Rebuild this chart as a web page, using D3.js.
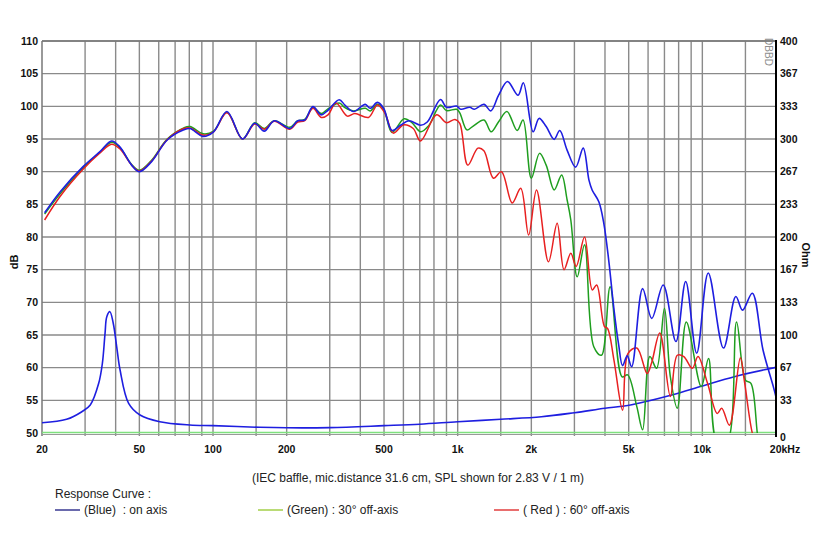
<!DOCTYPE html>
<html><head><meta charset="utf-8">
<script src="https://cdn.jsdelivr.net/npm/d3@7"></script>
<style>
html,body{margin:0;padding:0;background:#fff;}
svg text{font-family:"Liberation Sans Narrow","Liberation Sans",Arial,sans-serif;}
</style></head>
<body><svg id="c" width="825" height="550"></svg>
<script>
// ---------- DATA ----------
const dbTicks = [50,55,60,65,70,75,80,85,90,95,100,105,110];
const ohmTicks = ["0","33","67","100","133","167","200","233","267","300","333","367","400"];
const freqTickValues = [20,50,100,200,500,1000,2000,5000,10000,20000];
const freqTickLabels = ["20","50","100","200","500","1k","2k","5k","10k","20kHz"];
const gridFreqs = [30,40,50,60,70,80,90,100,150,200,300,400,500,600,700,800,900,1000,1500,2000,3000,4000,5000,6000,7000,8000,9000,10000,15000];

const blueFreq = [20.5,23.7,29.5,34.6,38.5,41.6,46.5,50,56,65,76,80.5,91,100.5,114,132,148,162,178,206,222,237,256,277,295,328,346,375,419,439,470,498,539,584,632,706,751,851,900,990,1030,1120,1170,1280,1366,1470,1598,1765,1855,2034,2151,2300,2478,2613,2800,3035,3259,3440,3544,3775,3956,4150,4350,4550,4720,4930,5140,5700,6210,6920,7800,8550,9480,10570,12200,13700,14600,16000,17700,19500,20000];
const blueSpl = [83.7,86.9,90.8,93.1,94.7,93.8,91.0,90.0,91.5,94.85,96.4,96.6,95.4,96.1,99.2,95.0,97.4,96.2,97.8,96.6,97.8,97.9,99.95,98.7,99.4,101.0,100.2,99.2,100.3,99.7,100.6,99.7,96.3,97.1,97.8,97.1,97.6,101.05,99.85,100.05,99.55,99.85,99.55,100.3,99.3,101.7,103.8,101.7,103.6,96.1,98.15,96.9,94.95,96.3,93.3,90.7,93.6,88.7,87.2,85.4,82.1,76.2,69.0,63.5,60.3,61.8,60.15,72.1,67.55,72.65,64.0,73.2,62.2,74.5,63.0,70.9,68.8,71.4,62.7,57.1,55.5];

const greenFreq = [20.5,23.7,29.5,34.6,38.5,41.6,46.5,50,56,65,76,80.5,91,100.5,114,132,148,162,178,206,222,237,256,277,295,328,346,375,419,439,470,498,539,604,650,706,760,851,900,990,1020,1090,1150,1280,1370,1470,1590,1750,1850,2000,2160,2300,2480,2660,2800,2900,3080,3300,3600,3870,4200,4700,4950,5400,5700,6100,6500,7000,7400,7900,8600,9900,10600,11500,12600,13800,15000,15800,17000,18000];
const greenSpl = [83.5,86.6,90.6,93.0,94.5,93.7,91.1,90.2,91.7,95.0,96.7,96.9,95.8,96.2,99.1,95.0,97.5,96.6,97.8,96.8,97.8,98.0,99.8,98.9,99.6,100.5,99.8,99.3,99.7,99.3,100.3,99.6,96.0,98.1,97.5,96.1,97.0,100.2,99.35,99.55,99.0,96.4,96.9,97.9,96.1,97.65,99.2,96.3,97.9,89.0,92.8,91.0,87.2,89.5,85.7,82.6,73.9,78.8,63.2,61.9,72.4,58.6,58.9,54.0,50.5,61.7,59.9,69.1,58.6,53.8,67.0,57.1,61.4,48.5,48.5,67.0,58.1,57.6,48.5,46];

const redFreq = [20.5,23.7,29.5,34.6,38.5,41.6,46.5,50,56,65,76,80.5,91,100.5,114,132,148,162,178,206,222,237,256,277,295,318,354,380,432,470,505,546,600,658,705,820,900,975,1020,1100,1210,1280,1400,1510,1670,1810,1950,2100,2350,2550,2720,2900,3050,3300,3550,3700,3980,4100,4350,4720,4970,5400,5950,6200,6700,7400,7900,8400,9100,9600,10500,11500,12000,12900,14300,14900,16000,17000];
const redSpl = [82.6,86.2,90.4,92.9,94.2,93.5,91.0,90.1,91.6,94.9,96.6,96.7,95.6,96.1,99.0,95.0,97.3,96.5,97.7,96.5,97.6,97.8,99.7,98.3,98.7,100.5,98.5,98.9,98.3,100.2,98.9,95.9,97.15,96.6,94.7,98.7,97.5,98.0,97.4,91.0,93.6,93.2,89.0,90.0,85.2,87.45,80.3,87.2,76.2,82.1,75.0,77.5,75.5,80.0,71.9,72.65,66.3,66.0,61.2,53.5,62.2,63.0,59.1,60.7,65.3,55.6,61.9,61.7,59.9,61.7,57.6,53.0,53.8,51.2,61.5,57.6,50,47];

const impFreq = [20,25.2,29.1,31.5,34.1,35.3,36.2,36.8,37.9,39.1,40.4,41.7,45.2,50.3,60.6,80.4,100,155,200,300,500,700,1000,1500,2200,3000,4000,4800,5600,7500,10000,13500,20000];
const impOhm = [10.5,14,21.7,28.6,50.7,71,101.7,118.7,123.8,112,88,64.3,30.3,18.4,11.5,8.2,7.5,5.8,5.3,5.5,7.5,9,11.5,14,16.6,20.7,25.2,27.6,30.9,38.8,48,57.5,67];

const legendItems = ["(Blue)  : on axis","(Green) : 30° off-axis","( Red ) : 60° off-axis"];

// ---------- DRAW ----------
const svg = d3.select("#c");
const L=42, R=776, T=41, B=433;
const x = d3.scaleLog().domain([20,20000]).range([L,R]);
const y = d3.scaleLinear().domain([50,110]).range([B,T]);
const yR = d3.scaleLinear().domain([0,400]).range([B,T]);

svg.append("defs").append("clipPath").attr("id","clip")
  .append("rect").attr("x",L).attr("y",T).attr("width",R-L).attr("height",B-T);

const gridC = "#8a8a8a";
svg.append("g").selectAll("line").data(dbTicks.slice(1)).join("line")
  .attr("x1",L).attr("x2",R).attr("y1",d=>y(d)).attr("y2",d=>y(d))
  .attr("stroke",gridC).attr("stroke-width",1.4);
svg.append("g").selectAll("line").data(gridFreqs).join("line")
  .attr("x1",d=>x(d)).attr("x2",d=>x(d)).attr("y1",T).attr("y2",B+3)
  .attr("stroke",gridC).attr("stroke-width",1.4);
svg.append("line").attr("x1",L).attr("x2",L).attr("y1",T).attr("y2",B+3).attr("stroke","#777").attr("stroke-width",1.5);
svg.append("line").attr("x1",L).attr("x2",R).attr("y1",B+1.5).attr("y2",B+1.5).attr("stroke","#999").attr("stroke-width",1.2);
svg.append("line").attr("x1",L).attr("x2",R).attr("y1",B-0.5).attr("y2",B-0.5).attr("stroke","#7ee07e").attr("stroke-width",1.6);

svg.append("g").selectAll("text").data(dbTicks).join("text")
  .attr("x",38).attr("y",d=>y(d)+3.5).attr("text-anchor","end")
  .attr("font-size",10.5).attr("font-weight","bold").attr("fill","#111").text(d=>d);
svg.append("g").selectAll("text").data(ohmTicks).join("text")
  .attr("x",780).attr("y",(d,i)=>yR(i*400/12)+(i===0?8:3.5)).attr("text-anchor","start")
  .attr("font-size",10.5).attr("font-weight","bold").attr("fill","#111").text(d=>d);
svg.append("g").selectAll("text").data(freqTickValues).join("text")
  .attr("x",(d,i)=>x(d)+(i===freqTickLabels.length-1?9:0)).attr("y",453).attr("text-anchor","middle")
  .attr("font-size",10.5).attr("font-weight","bold").attr("fill","#111").text((d,i)=>freqTickLabels[i]);

svg.append("text").attr("transform","translate(18,262) rotate(-90)").attr("text-anchor","middle")
  .attr("font-size",11).attr("font-weight","bold").attr("fill","#111").text("dB");
svg.append("text").attr("transform","translate(802,255) rotate(90)").attr("text-anchor","middle")
  .attr("font-size",11).attr("font-weight","bold").attr("fill","#111").text("Ohm");
svg.append("text").attr("transform","translate(765,52) rotate(90)").attr("text-anchor","middle")
  .attr("font-size",10).attr("fill","#8f8f8f").text("DBBD");

const lineG = d3.line().x(d=>x(d[0])).y(d=>y(d[1])).curve(d3.curveCatmullRom.alpha(0.5));
const lineZ = d3.line().x(d=>x(d[0])).y(d=>yR(d[1])).curve(d3.curveCatmullRom.alpha(0.5));
const plot = svg.append("g").attr("clip-path","url(#clip)");
plot.append("path").datum(d3.zip(impFreq,impOhm)).attr("d",lineZ).attr("fill","none").attr("stroke","#1e1ee0").attr("stroke-width",1.6);
plot.append("path").datum(d3.zip(greenFreq,greenSpl)).attr("d",lineG).attr("fill","none").attr("stroke","#1f9e1f").attr("stroke-width",1.5);
plot.append("path").datum(d3.zip(redFreq,redSpl)).attr("d",lineG).attr("fill","none").attr("stroke","#e82020").attr("stroke-width",1.5);
plot.append("path").datum(d3.zip(blueFreq,blueSpl)).attr("d",lineG).attr("fill","none").attr("stroke","#1e1ee0").attr("stroke-width",1.6);

svg.append("line").attr("x1",L).attr("x2",R).attr("y1",T).attr("y2",T).attr("stroke","#777").attr("stroke-width",1.4);
svg.append("line").attr("x1",R).attr("x2",R).attr("y1",T-1).attr("y2",B+4).attr("stroke","#000").attr("stroke-width",2);

svg.append("text").attr("x",418).attr("y",482).attr("text-anchor","middle").attr("font-size",12).attr("fill","#222")
  .text("(IEC baffle, mic.distance 31.6 cm, SPL shown for 2.83 V / 1 m)");
svg.append("text").attr("x",55).attr("y",498).attr("font-size",12).attr("fill","#222").text("Response Curve :");
const legX = [55,258,494];
const legC = ["#2a2a8a","#9ccc3c","#e03030"];
legendItems.forEach((t,i)=>{
  svg.append("line").attr("x1",legX[i]).attr("x2",legX[i]+25).attr("y1",510).attr("y2",510).attr("stroke",legC[i]).attr("stroke-width",1.4);
  svg.append("text").attr("x",legX[i]+29).attr("y",514).attr("font-size",12).attr("fill","#222").attr("xml:space","preserve").style("white-space","pre").text(t);
});
</script></body></html>
